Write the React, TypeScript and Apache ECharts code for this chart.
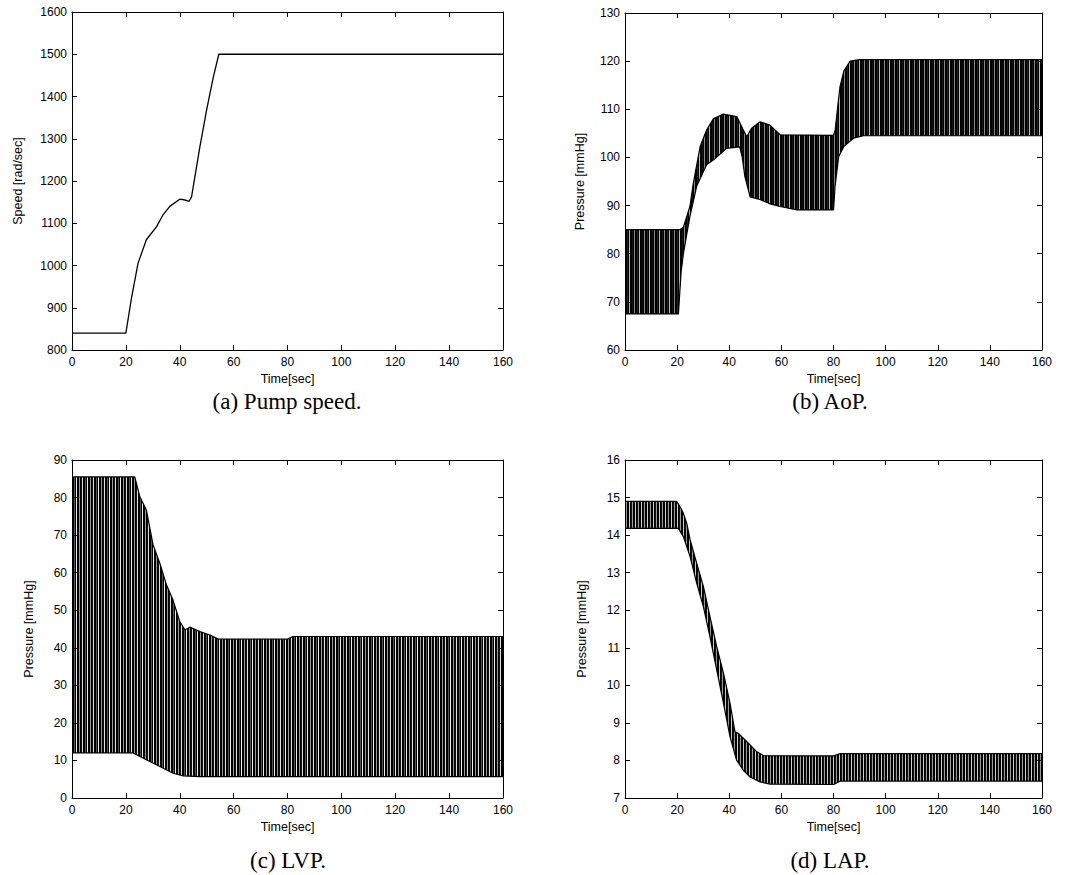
import React, { useEffect, useRef } from "react";
import * as echarts from "echarts";

// (a) Pump speed
const speedTime = [0, 20, 22, 24.5, 27.6, 31.4, 33.8, 36.3, 40, 42, 43.5, 44.4, 47.5, 50, 52.4, 54.5, 160];
const speedValue = [840, 840, 920, 1005, 1061, 1092, 1120, 1140, 1157, 1155, 1152, 1163, 1282, 1369, 1444, 1500, 1500];

// (b) AoP envelopes
const aopUpperTime = [0, 21, 22.4, 24.9, 26.2, 28.8, 31.3, 33.9, 37.7, 42.9, 45.4, 46.7, 48.5, 51.8, 55.6, 59.5, 80, 80.6, 81.5, 82.5, 84, 86.4, 90, 160];
const aopUpper = [85, 85, 85.5, 89.8, 94.6, 102.2, 105.7, 108, 109, 108.5, 105.7, 104.3, 106, 107.4, 106.7, 104.7, 104.6, 105.5, 110, 114.7, 118, 120, 120.3, 120.3];
const aopLowerTime = [0, 20.5, 21.5, 22.4, 24.9, 27.5, 31.3, 34, 39, 44, 45, 46, 48, 52, 56, 59.5, 66, 80, 80.6, 82, 84, 87.7, 91.5, 160];
const aopLower = [67.5, 67.5, 76, 80, 87.7, 94, 98.5, 99.5, 101.9, 102.2, 100, 96, 91.8, 91.2, 90.3, 89.8, 89.1, 89.1, 94, 100.2, 102.3, 104, 104.5, 104.5];

// (c) LVP envelopes
const lvpUpperTime = [0, 23.3, 25.2, 27.6, 30.1, 32.6, 35.1, 37.5, 40, 41.9, 43.1, 43.7, 47.5, 51.2, 54.3, 80, 82, 160];
const lvpUpper = [85.5, 85.5, 80.2, 76.7, 67.4, 62.5, 56.7, 52.7, 47, 44.8, 45.2, 45.5, 44.3, 43.4, 42.3, 42.3, 43, 43];
const lvpLowerTime = [0, 22.7, 27.6, 32.6, 37.5, 41.3, 47.5, 160];
const lvpLower = [12, 12, 10.2, 8.4, 6.6, 5.9, 5.7, 5.7];

// (d) LAP envelopes
const lapUpperTime = [0, 19.8, 21.1, 22.4, 23.7, 25, 27.5, 30.1, 32.6, 35.2, 37.8, 40.3, 42.2, 43.5, 45.4, 48, 50.6, 53.1, 80, 82.6, 160];
const lapUpper = [14.9, 14.9, 14.76, 14.58, 14.31, 13.87, 13.25, 12.63, 11.83, 11.03, 10.32, 9.52, 8.76, 8.72, 8.59, 8.41, 8.23, 8.13, 8.12, 8.18, 8.18];
const lapLowerTime = [0, 20.5, 22.4, 25, 27.5, 30.1, 32.6, 35.2, 37.8, 40.3, 42.8, 45.4, 48, 51.8, 55.7, 80, 82.6, 160];
const lapLower = [14.18, 14.18, 13.96, 13.42, 12.72, 12.09, 11.29, 10.41, 9.52, 8.63, 8.01, 7.74, 7.56, 7.43, 7.37, 7.36, 7.45, 7.45];

const captions = ["(a) Pump speed.", "(b) AoP.", "(c) LVP.", "(d) LAP."];
const yNames = ["Speed [rad/sec]", "Pressure [mmHg]", "Pressure [mmHg]", "Pressure [mmHg]"];
const yRanges = [
  [800, 1600, 100],
  [60, 130, 10],
  [0, 90, 10],
  [7, 16, 1],
];

const zip = (t: number[], v: number[]) => t.map((x, i) => [x, v[i]]);

const SANS = '"Liberation Sans", Arial, sans-serif';

function stripePattern(cols: string[]) {
  const c = document.createElement("canvas");
  c.width = cols.length;
  c.height = 1;
  const ctx = c.getContext("2d")!;
  cols.forEach((col, i) => {
    ctx.fillStyle = col;
    ctx.fillRect(i, 0, 1, 1);
  });
  return { image: c, repeat: "repeat" };
}

export default function App() {
  const ref = useRef<HTMLDivElement>(null);
  useEffect(() => {
    document.body.style.margin = "0";
    const chart = echarts.init(ref.current!, null, { renderer: "svg" });
    const grids = [
      { left: 72, top: 12, width: 431, height: 338 },
      { left: 625, top: 13, width: 417, height: 337 },
      { left: 72, top: 460, width: 431, height: 338 },
      { left: 625, top: 460, width: 417, height: 338 },
    ];
    const yNameGaps = [48, 39, 37, 37];
    const xAxis: any[] = [];
    const yAxis: any[] = [];
    grids.forEach((_, gi) => {
      const common = {
        type: "value",
        gridIndex: gi,
        splitLine: { show: false },
        axisLine: { show: true, onZero: false, lineStyle: { color: "#000", width: 1 } },
        axisTick: { show: true, inside: true, length: 5, lineStyle: { color: "#000", width: 1 } },
        z: 10,
      };
      xAxis.push({
        ...common,
        position: "bottom",
        min: 0,
        max: 160,
        interval: 20,
        axisLabel: { color: "#000", fontSize: 12, fontFamily: SANS, margin: 6, formatter: (v: number) => String(v) },
        name: "Time[sec]",
        nameLocation: "middle",
        nameGap: 22,
        nameTextStyle: { color: "#000", fontSize: 12.5, fontFamily: SANS },
      });
      xAxis.push({
        ...common,
        position: "top",
        min: 0,
        max: 160,
        interval: 20,
        axisLabel: { show: false },
      });
      const [mn, mx, iv] = yRanges[gi];
      yAxis.push({
        ...common,
        position: "left",
        min: mn,
        max: mx,
        interval: iv,
        axisLabel: { color: "#000", fontSize: 12, fontFamily: SANS, margin: 5, formatter: (v: number) => String(v) },
        name: yNames[gi],
        nameLocation: "middle",
        nameGap: yNameGaps[gi],
        nameTextStyle: { color: "#000", fontSize: 12.5, fontFamily: SANS },
      });
      yAxis.push({
        ...common,
        position: "right",
        min: mn,
        max: mx,
        interval: iv,
        axisLabel: { show: false },
      });
    });

    const band = (gi: number, upT: number[], up: number[], loT: number[], lo: number[], fill: any) => [
      {
        type: "line",
        xAxisIndex: gi * 2,
        yAxisIndex: gi * 2,
        data: zip(upT, up),
        showSymbol: false,
        symbol: "none",
        lineStyle: { color: "#000", width: 1.2 },
        areaStyle: { color: fill, opacity: 1, origin: "start" },
        z: 2,
      },
      {
        type: "line",
        xAxisIndex: gi * 2,
        yAxisIndex: gi * 2,
        data: zip(loT, lo),
        showSymbol: false,
        symbol: "none",
        lineStyle: { color: "#000", width: 1.2 },
        areaStyle: { color: "#fff", opacity: 1, origin: "start" },
        z: 3,
      },
    ];

    const patB = stripePattern(["#000", "#000", "#111", "#000", "#888", "#000", "#000", "#222", "#000", "#bbb"]);
    const patC = stripePattern(["#000", "#000", "#999", "#000", "#111", "#ddd", "#000", "#000", "#555", "#000", "#eee"]);
    const patD = stripePattern(["#000", "#111", "#999", "#000", "#000", "#ccc"]);

    const series: any[] = [
      {
        type: "line",
        xAxisIndex: 0,
        yAxisIndex: 0,
        data: zip(speedTime, speedValue),
        showSymbol: false,
        symbol: "none",
        lineStyle: { color: "#000", width: 1.3 },
      },
      ...band(1, aopUpperTime, aopUpper, aopLowerTime, aopLower, patB),
      ...band(2, lvpUpperTime, lvpUpper, lvpLowerTime, lvpLower, patC),
      ...band(3, lapUpperTime, lapUpper, lapLowerTime, lapLower, patD),
    ];

    const capPos = [
      [287, 401],
      [830, 401],
      [288, 860],
      [830, 860],
    ];
    const graphic = captions.map((c, i) => ({
      type: "text",
      x: capPos[i][0],
      y: capPos[i][1],
      style: {
        text: c,
        font: '23px "Liberation Serif", "Times New Roman", serif',
        fill: "#000",
        align: "center",
        verticalAlign: "middle",
      },
    }));

    chart.setOption({
      animation: false,
      backgroundColor: "#fff",
      grid: grids,
      xAxis,
      yAxis,
      series,
      graphic,
    });
    return () => chart.dispose();
  }, []);
  return <div ref={ref} style={{ width: 1070, height: 875 }} />;
}
